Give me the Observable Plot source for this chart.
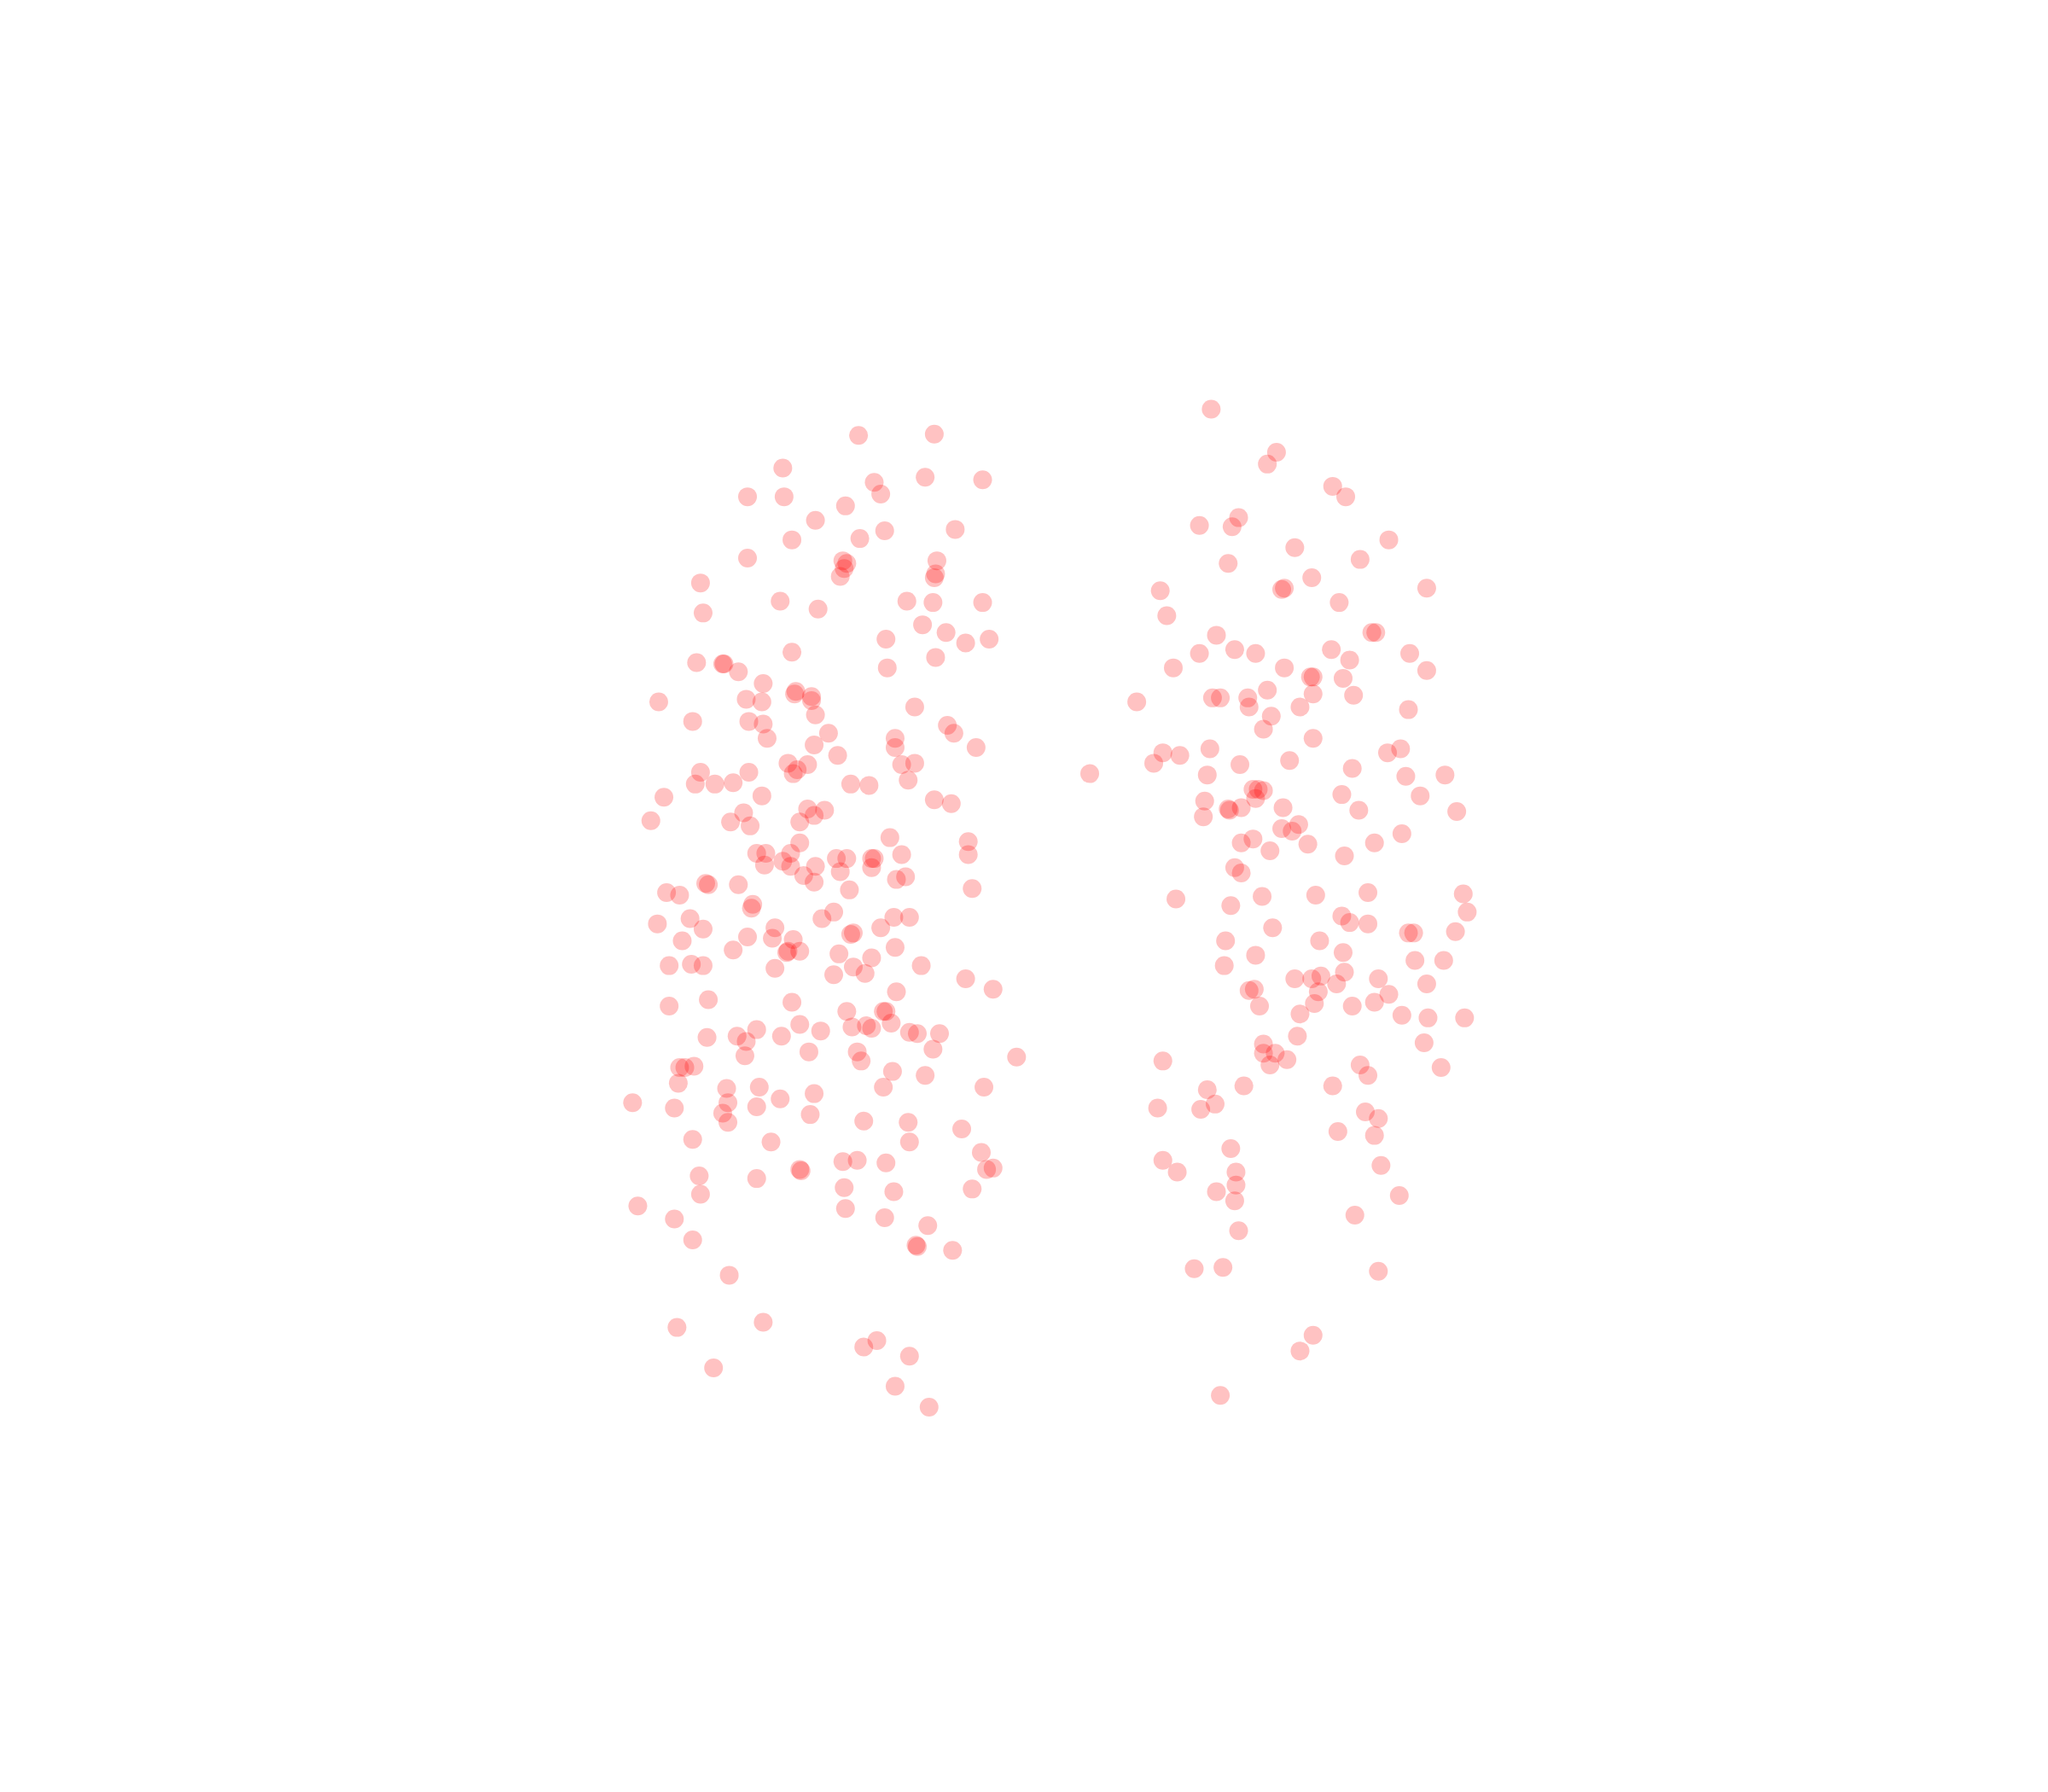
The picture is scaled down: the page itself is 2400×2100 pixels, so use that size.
<!DOCTYPE html>
<html><head><meta charset="utf-8">
<script src="https://cdn.jsdelivr.net/npm/d3@7"></script>
<script src="https://cdn.jsdelivr.net/npm/@observablehq/plot@0.6"></script>
<style>html,body{margin:0;padding:0;background:#fff}svg{display:block}</style>
</head><body><div id="chart"></div>
<script>
const leftCluster = [[657,333],[715,332],[599,358],[669,369],[708,365],[752,367],[572,380],[600,380],[674,378],[647,387],[624,398],[658,412],[677,406],[731,405],[606,413],[572,427],[645,429],[648,431],[717,429],[646,435],[643,441],[716,439],[715,442],[536,446],[597,460],[694,460],[714,461],[752,461],[538,469],[626,466],[706,478],[724,484],[678,489],[739,492],[757,489],[606,499],[716,503],[533,507],[553,508],[554,508],[565,514],[679,511],[584,523],[609,529],[608,531],[621,533],[621,536],[571,535],[583,537],[504,537],[700,541],[624,547],[530,552],[573,552],[584,554],[725,555],[634,561],[730,561],[587,565],[685,565],[685,572],[623,570],[747,572],[641,578],[603,584],[618,585],[690,585],[700,584],[610,589],[607,592],[536,591],[573,591],[532,600],[547,600],[561,599],[651,600],[665,601],[695,597],[508,610],[583,609],[715,612],[728,615],[618,619],[631,620],[569,622],[623,624],[498,628],[559,629],[574,632],[612,629],[681,641],[741,644],[612,645],[579,653],[586,653],[605,653],[599,659],[640,657],[648,657],[667,657],[669,657],[690,654],[741,654],[585,662],[605,663],[624,663],[643,667],[615,670],[667,664],[693,671],[686,673],[623,675],[540,676],[542,677],[565,677],[510,683],[520,685],[650,681],[744,680],[576,692],[575,695],[638,698],[528,703],[629,703],[684,702],[696,702],[503,707],[538,711],[593,710],[674,710],[651,715],[653,714],[522,720],[572,717],[591,718],[607,719],[685,725],[561,727],[602,729],[603,728],[612,728],[642,730],[667,733],[512,739],[529,738],[538,739],[593,741],[653,740],[705,739],[638,746],[662,745],[739,749],[686,759],[760,757],[542,765],[512,770],[606,767],[648,774],[676,774],[678,774],[612,784],[682,783],[652,786],[663,785],[667,787],[579,788],[628,789],[696,790],[702,791],[719,791],[541,794],[564,793],[571,797],[598,793],[714,803],[619,805],[656,805],[570,808],[659,812],[778,809],[520,817],[524,817],[531,816],[683,820],[708,823],[519,829],[556,833],[581,832],[676,832],[753,832],[623,837],[597,841],[484,844],[557,844],[516,848],[579,847],[553,852],[620,853],[557,859],[661,858],[695,859],[736,864],[530,872],[590,874],[696,874],[751,882],[645,889],[656,888],[678,890],[612,895],[613,896],[755,895],[760,894],[535,900],[579,902],[646,909],[744,910],[536,914],[684,912],[488,923],[647,925],[516,933],[677,932],[710,938],[530,949],[701,953],[702,954],[729,957],[558,976],[518,1016],[584,1012],[671,1026],[661,1031],[696,1038],[546,1047],[685,1061],[711,1077]];
const rightCluster = [[927,313],[977,346],[970,355],[1020,372],[1030,380],[948,396],[918,402],[943,403],[1063,413],[991,419],[940,431],[1041,428],[1004,442],[888,452],[981,451],[983,450],[1092,450],[1025,461],[893,471],[931,486],[1050,484],[1053,484],[945,497],[961,500],[918,500],[1019,497],[1079,500],[1033,505],[898,511],[983,511],[1092,513],[1003,518],[1005,518],[1028,519],[970,528],[1005,531],[1036,532],[928,534],[934,534],[955,534],[870,537],[956,541],[995,541],[1078,543],[973,548],[967,558],[1005,565],[926,573],[1062,576],[1072,573],[890,576],[903,578],[883,584],[949,585],[987,582],[1035,588],[834,592],[924,593],[1076,594],[1106,593],[959,604],[963,604],[967,605],[1027,608],[1087,609],[961,611],[922,613],[950,618],[982,618],[940,619],[941,620],[1040,620],[1115,621],[921,625],[994,631],[981,634],[989,636],[1073,638],[959,642],[950,645],[1052,645],[1001,646],[972,651],[1029,655],[945,664],[950,668],[900,688],[966,686],[1007,685],[1047,683],[1120,684],[942,693],[1027,701],[1123,698],[1033,706],[1047,707],[974,710],[1078,714],[1082,714],[1114,713],[938,720],[1010,720],[1028,729],[961,731],[1083,735],[1105,735],[937,739],[1029,744],[991,749],[1004,749],[1011,747],[1055,749],[1092,753],[1023,753],[956,758],[960,757],[1009,759],[1063,761],[964,770],[1006,768],[1035,770],[1052,767],[995,776],[1073,777],[1093,779],[1121,779],[993,793],[1090,798],[967,799],[967,806],[976,806],[985,811],[890,812],[972,815],[1041,815],[1103,817],[1047,823],[952,831],[1020,831],[924,834],[930,845],[886,848],[919,849],[1045,851],[1055,856],[1024,866],[1052,869],[942,879],[890,888],[1057,892],[901,897],[946,897],[946,907],[931,912],[945,919],[1071,915],[1037,930],[948,942],[914,971],[936,970],[1055,973],[1005,1022],[995,1034],[934,1068]];

const points = [...leftCluster, ...rightCluster];
const chart = Plot.plot({
  width: 2400, height: 2100,
  margin: 0,
  x: {axis: null, domain: [0, 1568], range: [0, 2400]},
  y: {axis: null, domain: [0, 1372], range: [0, 2100]},
  marks: [
    Plot.dot(points, {x: d => d[0], y: d => d[1], r: 11, fill: "#ff0000", fillOpacity: 0.24, stroke: "none"})
  ]
});
document.getElementById("chart").appendChild(chart);
</script></body></html>
